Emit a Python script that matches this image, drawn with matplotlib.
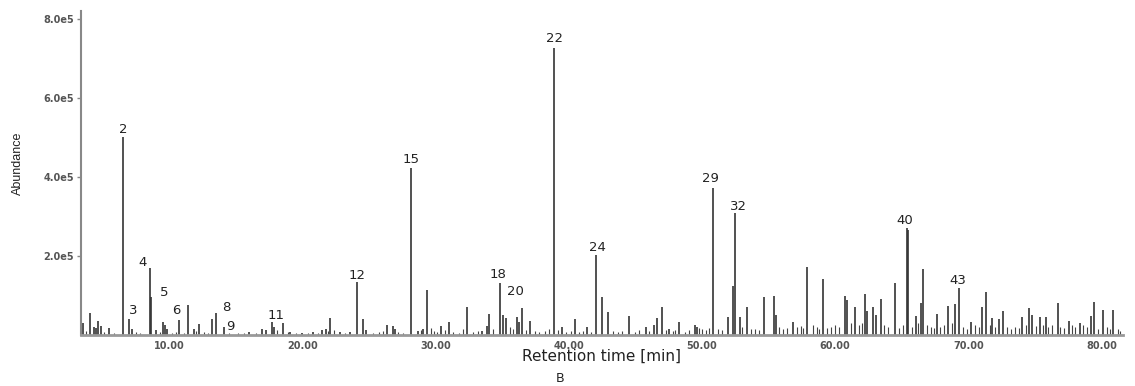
import matplotlib
matplotlib.use('Agg')
import matplotlib.pyplot as plt
from matplotlib.ticker import FixedLocator, FuncFormatter

# main peaks: retention time [min] and abundance
peak_rt = [3.55, 4.05, 4.35, 4.55, 4.7, 4.9, 5.5, 6.53, 6.98, 7.2, 8.58, 8.64, 9.0, 9.53, 9.7, 9.85,
           10.74, 11.44, 11.87, 12.23, 13.2, 13.5, 14.1, 16.0, 17.0, 17.3, 17.7, 17.9, 18.55, 19.1,
           20.0, 20.8, 21.5, 21.8, 22.1, 22.8, 23.6, 24.1, 24.55, 24.8, 26.4, 26.8, 26.95, 28.2,
           28.7, 29.1, 29.35, 30.4, 31.0, 32.35, 33.5, 33.85, 34.0, 34.85, 35.1, 35.3, 36.1, 36.3,
           36.5, 37.1, 38.9, 39.5, 40.5, 41.4, 42.05, 42.5, 42.95, 44.5, 45.8, 46.4, 46.6, 47.0,
           47.5, 48.3, 49.5, 49.65, 50.8, 51.95, 52.35, 52.5, 52.85, 53.4, 54.65, 55.4, 55.55,
           56.8, 57.9, 59.1, 60.75, 60.9, 61.5, 62.25, 62.4, 62.85, 63.1, 63.45, 64.5, 65.4, 65.45,
           66.05, 66.45, 66.6, 67.65, 68.5, 69.0, 69.3, 70.2, 71.0, 71.3, 71.8, 72.3, 72.6, 74.0,
           74.55, 74.8, 75.35, 75.8, 76.7, 77.55, 78.35, 79.2, 79.45, 80.1, 80.85]
peak_ab = [30e3, 55e3, 20e3, 18e3, 35e3, 22e3, 18e3, 501e3, 40e3, 15e3, 170e3, 95e3, 12e3, 33e3, 25e3, 15e3,
           38e3, 76e3, 15e3, 28e3, 40e3, 56e3, 20e3, 8e3, 15e3, 12e3, 33e3, 20e3, 30e3, 8e3,
           6e3, 8e3, 12e3, 15e3, 43e3, 8e3, 8e3, 134e3, 40e3, 12e3, 25e3, 23e3, 15e3, 423e3,
           10e3, 15e3, 114e3, 23e3, 33e3, 71e3, 10e3, 23e3, 53e3, 132e3, 50e3, 43e3, 45e3, 33e3,
           68e3, 35e3, 727e3, 20e3, 40e3, 20e3, 202e3, 96e3, 58e3, 48e3, 20e3, 25e3, 43e3, 71e3,
           15e3, 33e3, 25e3, 20e3, 372e3, 45e3, 125e3, 309e3, 45e3, 71e3, 96e3, 99e3, 50e3,
           33e3, 172e3, 142e3, 99e3, 89e3, 71e3, 104e3, 60e3, 71e3, 50e3, 91e3, 132e3, 271e3, 265e3,
           48e3, 81e3, 167e3, 53e3, 73e3, 78e3, 119e3, 33e3, 71e3, 109e3, 43e3, 40e3, 61e3, 45e3,
           68e3, 50e3, 45e3, 45e3, 81e3, 35e3, 30e3, 48e3, 83e3, 63e3, 63e3]

# small baseline peaks
minor_rt = [3.8, 5.1, 5.9, 7.5, 7.8, 9.3, 10.2, 10.5, 11.1, 12.0, 12.6, 12.9, 14.5, 15.2, 15.6, 16.5,
            18.1, 18.9, 19.5, 20.4, 21.2, 21.9, 22.4, 23.2, 25.3, 25.8, 26.1, 27.2, 27.6, 28.9, 29.7,
            29.9, 30.1, 30.7, 31.3, 31.8, 32.1, 32.8, 33.2, 34.3, 35.6, 35.8, 36.8, 37.5, 37.8, 38.2,
            38.5, 39.2, 39.8, 40.2, 40.8, 41.1, 41.7, 43.3, 43.7, 44.0, 45.0, 45.3, 46.0, 47.3, 47.8,
            48.0, 48.7, 49.0, 49.8, 50.0, 50.3, 50.5, 51.2, 51.5, 53.0, 53.7, 54.0, 54.3, 55.8, 56.1,
            56.4, 57.1, 57.4, 57.6, 58.3, 58.6, 58.8, 59.4, 59.7, 60.0, 60.3, 61.2, 61.8, 62.0, 63.7,
            64.0, 64.8, 65.1, 65.8, 66.2, 66.9, 67.2, 67.4, 67.9, 68.2, 68.8, 69.6, 69.9, 70.5, 70.8,
            71.6, 72.0, 72.9, 73.2, 73.5, 73.8, 74.3, 75.1, 75.6, 76.0, 76.3, 76.9, 77.2, 77.8, 78.0,
            78.6, 78.9, 79.7, 80.4, 80.6, 81.2, 81.4]
minor_ab = [10e3, 8e3, 6e3, 8e3, 5e3, 8e3, 6e3, 8e3, 6e3, 10e3, 8e3, 6e3, 6e3, 5e3, 6e3, 5e3,
            12e3, 8e3, 6e3, 5e3, 6e3, 10e3, 12e3, 5e3, 6e3, 8e3, 10e3, 8e3, 6e3, 12e3, 18e3,
            10e3, 8e3, 12e3, 8e3, 6e3, 15e3, 8e3, 10e3, 15e3, 20e3, 15e3, 12e3, 10e3, 8e3, 10e3,
            15e3, 12e3, 8e3, 10e3, 8e3, 10e3, 8e3, 10e3, 8e3, 10e3, 8e3, 12e3, 10e3, 12e3, 10e3,
            12e3, 8e3, 12e3, 18e3, 15e3, 12e3, 18e3, 15e3, 12e3, 20e3, 15e3, 15e3, 12e3, 20e3, 15e3,
            18e3, 20e3, 22e3, 18e3, 25e3, 20e3, 15e3, 18e3, 20e3, 25e3, 20e3, 30e3, 25e3, 30e3, 25e3,
            20e3, 18e3, 25e3, 20e3, 30e3, 25e3, 20e3, 18e3, 20e3, 25e3, 30e3, 20e3, 15e3, 25e3, 20e3,
            25e3, 20e3, 20e3, 15e3, 20e3, 18e3, 25e3, 22e3, 25e3, 20e3, 25e3, 20e3, 18e3, 25e3, 20e3,
            25e3, 20e3, 15e3, 20e3, 15e3, 15e3, 10e3]

# labelled compounds
label_names = ['2', '3', '4', '5', '6', '8', '9', '11', '12', '15', '18', '20', '22', '24', '29', '32', '40', '43']
label_rt = [6.53, 6.98, 8.58, 8.64, 10.74, 13.5, 14.1, 17.7, 24.1, 28.2, 34.85, 35.3, 38.9, 42.05, 50.8, 52.5, 65.4, 69.3]
label_ab = [501e3, 40e3, 170e3, 95e3, 38e3, 56e3, 20e3, 33e3, 134e3, 423e3, 132e3, 43e3, 727e3, 202e3, 372e3, 309e3, 271e3, 119e3]

x_ticks = [10, 20, 30, 40, 50, 60, 70, 80]
y_ticks = [2e5, 4e5, 6e5, 8e5]

# label offsets in pixels (x, y)
offsets = {'2': (1, 8), '3': (5, 9), '4': (-7, 5), '5': (13, 5), '6': (-2, 9), '8': (11, 5),
           '9': (7, 1), '11': (5, 6), '12': (0, 7), '15': (0, 8), '18': (-2, 8), '20': (9, 27),
           '22': (0, 9), '24': (1, 8), '29': (-2, 10), '32': (3, 6), '40': (-2, 7), '43': (-1, 7)}

fig = plt.figure(figsize=(11.35, 3.86), dpi=100)
ax = fig.add_axes([81/1135, 51/386, 1042/1135, 324/386])

ax.vlines(minor_rt, 0, minor_ab, color='#444444', lw=0.8)
ax.vlines(peak_rt, 0, peak_ab, color='#333333', lw=1.2)

for name, rt, ab in zip(label_names, label_rt, label_ab):
    dx, dy = offsets[name]
    ax.annotate(name, (rt, ab), xytext=(dx, dy), textcoords='offset pixels',
                ha='center', va='center', fontsize=9.5, color='#222222', family='DejaVu Sans')

ax.set_xlim(3.4, 81.6)
ax.set_ylim(0, 8.2e5)
for s in ['top', 'right']:
    ax.spines[s].set_visible(False)
ax.spines['left'].set_color('#888888')
ax.spines['left'].set_linewidth(1.5)
ax.spines['bottom'].set_color('#999999')
ax.spines['bottom'].set_linewidth(2)

ax.xaxis.set_major_locator(FixedLocator(x_ticks))
ax.xaxis.set_major_formatter(FuncFormatter(lambda v, p: '%.2f' % v))
ax.yaxis.set_major_locator(FixedLocator(y_ticks))
ax.yaxis.set_major_formatter(FuncFormatter(lambda v, p: '%.1fe5' % (v / 1e5)))
ax.tick_params(axis='x', length=0, pad=4, labelsize=7, labelcolor='#555555')
ax.tick_params(axis='y', length=3, width=1, color='#888888', pad=2, labelsize=7, labelcolor='#555555')
for t in ax.get_xticklabels() + ax.get_yticklabels():
    t.set_fontweight('bold')

ax.set_xlabel('Retention time [min]', fontsize=11, color='#222222', labelpad=-1)
fig.text(18/1135, 1 - 163/386, 'Abundance', rotation=90, ha='center', va='center',
         fontsize=9, color='#222222', family=['Liberation Sans', 'DejaVu Sans'])
fig.text(560/1135, 1 - 378/386, 'B', ha='center', va='center', fontsize=9, color='#222222')

fig.savefig('out.png', dpi=100)
